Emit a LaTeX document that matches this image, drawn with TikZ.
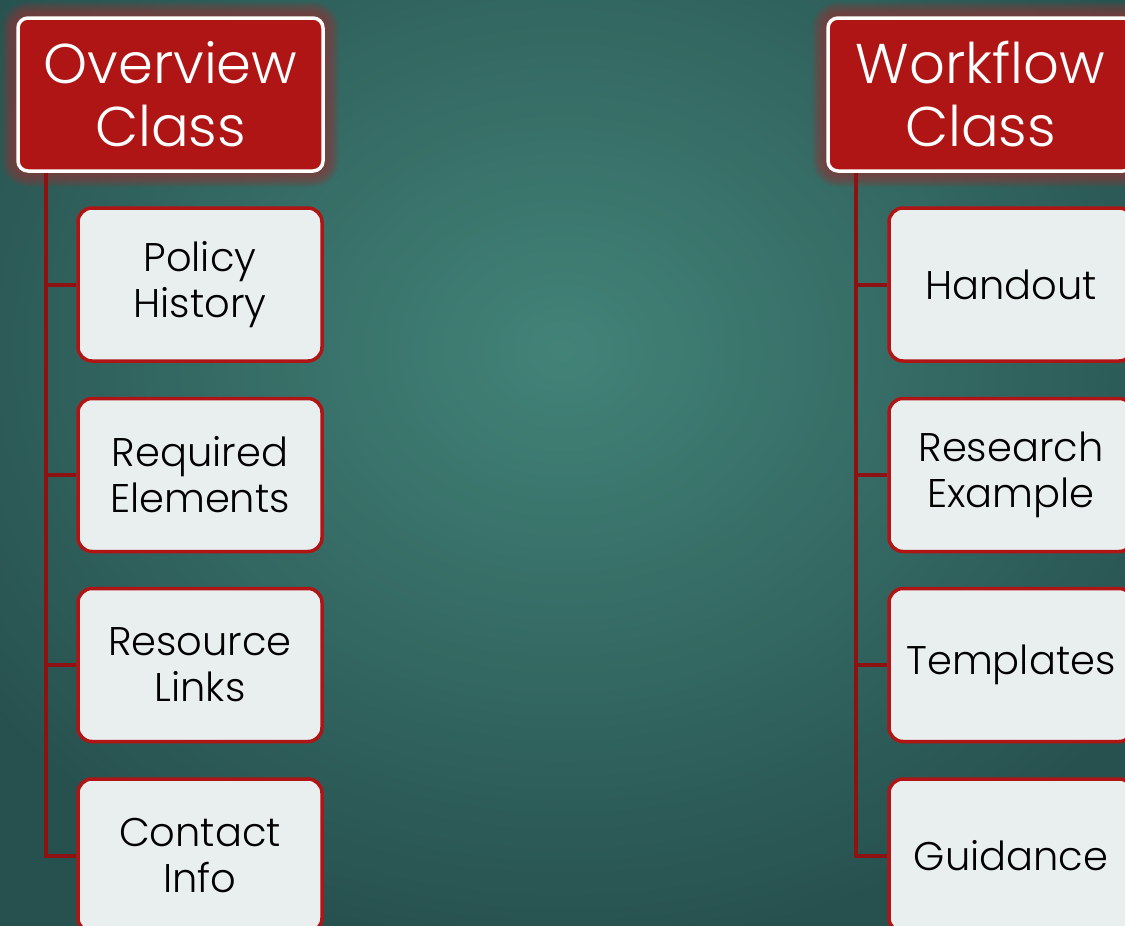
\documentclass[tikz,border=0pt]{standalone}
\usepackage{fontspec}
\setmainfont{Poppins Light}
\definecolor{hdrred}{HTML}{B01515}
\definecolor{linered}{HTML}{8E1212}
\definecolor{boxfill}{HTML}{E9EEEE}
\definecolor{bgin}{HTML}{428378}
\definecolor{bgout}{HTML}{27514F}
\definecolor{glowc}{HTML}{8A3A3A}
\tikzset{
  hdrbox/.style={draw=white, line width=3.5pt, fill=hdrred, rounded corners=10pt,
    minimum width=305pt, minimum height=153pt, inner sep=0pt, align=center,
    text=white, font=\fontsize{56}{63}\selectfont},
  childbox/.style={draw=hdrred, line width=3.5pt, fill=boxfill, rounded corners=14pt,
    minimum width=244pt, minimum height=153pt, inner sep=0pt, align=center,
    text=black, font=\fontsize{40}{46}\selectfont},
  conn/.style={draw=linered, line width=4pt},
}
\begin{document}
\begin{tikzpicture}[x=1pt,y=-1pt]
\useasboundingbox (0,0) rectangle (1125,926);
\clip (0,0) rectangle (1125,926);
\shade[inner color=bgin, outer color=bgout] (-150,-250) rectangle (1275,950);
% glows
\foreach \i in {1,...,16}{
  \fill[glowc, opacity=0.09, rounded corners=10+\i] (18-\i,18-\i) rectangle (323+\i,171+\i);
  \fill[glowc, opacity=0.09, rounded corners=10+\i] (828-\i,18-\i) rectangle (1133+\i,171+\i);
}
% left column
\node[hdrbox] (ov) at (170.5,94.5) {Overview\\Class};
\node[childbox] (l1) at (200,284.5) {Policy\\History};
\node[childbox] (l2) at (200,475) {Required\\Elements};
\node[childbox] (l3) at (200,665) {Resource\\Links};
\node[childbox] (l4) at (200,855.5) {Contact\\Info};
% right column
\node[hdrbox] (wf) at (980.5,94.5) {Workflow\\Class};
\node[childbox] (r1) at (1011,284.5) {Handout};
\node[childbox] (r2) at (1011,475) {Research\\Example};
\node[childbox] (r3) at (1011,665) {Templates};
\node[childbox] (r4) at (1011,855.5) {Guidance};
% connectors
\coordinate (lt) at ([xshift=30pt]ov.south west);
\coordinate (rt) at ([xshift=30pt]wf.south west);
\foreach \c in {l1,l2,l3,l4}{\draw[conn] (lt) |- (\c.west);}
\foreach \c in {r1,r2,r3,r4}{\draw[conn] (rt) |- (\c.west);}
\end{tikzpicture}
\end{document}
